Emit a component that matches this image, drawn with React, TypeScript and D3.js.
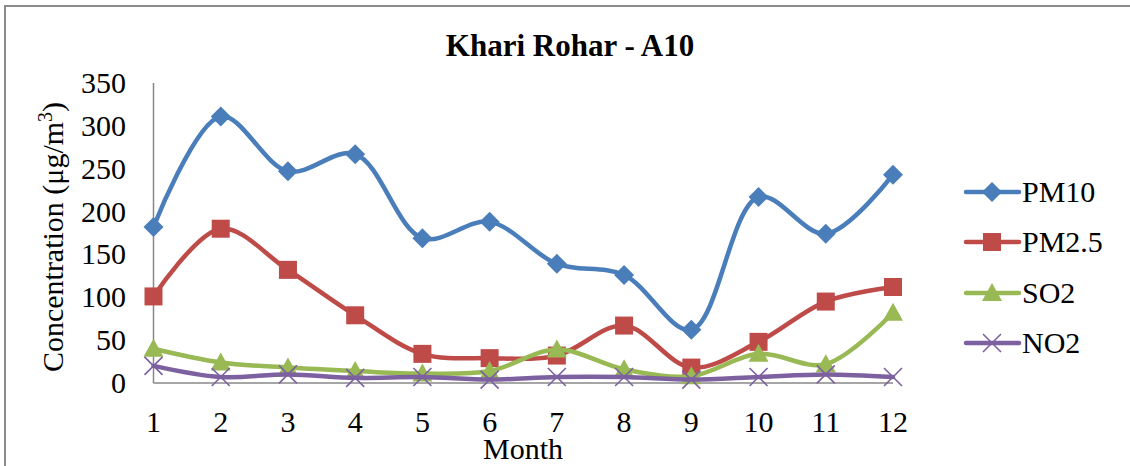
import React from "react";
import * as d3 from "d3";

const months = [1, 2, 3, 4, 5, 6, 7, 8, 9, 10, 11, 12];
const pm10 = [182, 311, 247, 267, 169, 188, 139, 126, 62, 217, 174, 243];
const pm25 = [101, 180, 132, 79, 34, 29, 32, 67, 18, 48, 95, 112];
const so2 = [40, 24, 18, 14, 11, 14, 39, 16, 8, 34, 22, 82];
const no2 = [20, 7, 10, 6, 7, 4, 7, 7, 4, 7, 10, 7];
const yTicks = [0, 50, 100, 150, 200, 250, 300, 350];
const seriesNames = ["PM10", "PM2.5", "SO2", "NO2"];
const seriesColors = ["#4A7EBB", "#BE4B48", "#98B954", "#7D60A0"];
const seriesMarkers = ["diamond", "square", "triangle", "x"];
const seriesValues = [pm10, pm25, so2, no2];

const W = 1130;
const H = 466;
const FONT = "'Liberation Serif', 'Times New Roman', serif";

function Marker({ kind, color, x, y }: { kind: string; color: string; x: number; y: number }) {
  if (kind === "diamond") {
    const r = 10;
    return <path d={`M${x},${y - r}L${x + r},${y}L${x},${y + r}L${x - r},${y}Z`} fill={color} />;
  }
  if (kind === "square") {
    const s = 9;
    return <rect x={x - s} y={y - s} width={2 * s} height={2 * s} fill={color} />;
  }
  if (kind === "triangle") {
    const r = 10;
    return <path d={`M${x},${y - r}L${x + r},${y + 8}L${x - r},${y + 8}Z`} fill={color} />;
  }
  const r = 9;
  return (
    <path
      d={`M${x - r},${y - r}L${x + r},${y + r}M${x - r},${y + r}L${x + r},${y - r}`}
      stroke={color}
      strokeWidth={1.6}
      fill="none"
    />
  );
}

export default function App() {
  const x = d3.scaleLinear().domain([1, 12]).range([153.5, 893]);
  const y = d3.scaleLinear().domain([0, 350]).range([383, 83]);
  const line = d3
    .line<number>()
    .x((_, i) => x(months[i]))
    .y((d) => y(d))
    .curve(d3.curveCatmullRom.alpha(0.5));

  const legendY = [192, 242, 293, 343];

  return (
    <svg
      width={W}
      height={H}
      style={{ position: "absolute", left: 0, top: 0, background: "#fff" }}
      fontFamily={FONT}
    >
      <rect x={0} y={0} width={W} height={H} fill="#fff" />
      <rect x={5} y={6} width={W + 20} height={H + 20} fill="none" stroke="#8a8a8a" strokeWidth={2} />

      <text x={570} y={56} textAnchor="middle" fontSize={31} fontWeight="bold" fill="#000">
        Khari Rohar - A10
      </text>

      {/* axes */}
      <line x1={x(1)} x2={x(1)} y1={y(350)} y2={y(0)} stroke="#888" strokeWidth={1.5} />
      <line x1={x(1)} x2={x(12)} y1={y(0)} y2={y(0)} stroke="#888" strokeWidth={1.5} />

      {yTicks.map((t) => (
        <text key={t} x={126} y={y(t) + 10} textAnchor="end" fontSize={30} fill="#000">
          {t}
        </text>
      ))}
      {months.map((m) => (
        <text key={m} x={x(m)} y={432} textAnchor="middle" fontSize={30} fill="#000">
          {m}
        </text>
      ))}

      <text x={523} y={459} textAnchor="middle" fontSize={30} fill="#000">
        Month
      </text>
      <text transform="translate(63,237) rotate(-90)" textAnchor="middle" fontSize={30} fill="#000">
        Concentration (μg/m
        <tspan fontSize={20} dy={-11}>
          3
        </tspan>
        <tspan dy={11}>)</tspan>
      </text>

      {seriesValues.map((vals, si) => (
        <g key={seriesNames[si]}>
          <path
            d={line(vals) || ""}
            fill="none"
            stroke={seriesColors[si]}
            strokeWidth={4.5}
            strokeLinejoin="round"
            strokeLinecap="round"
          />
          {vals.map((v, i) => (
            <Marker key={i} kind={seriesMarkers[si]} color={seriesColors[si]} x={x(months[i])} y={y(v)} />
          ))}
        </g>
      ))}

      {seriesNames.map((n, si) => (
        <g key={n}>
          <line
            x1={966}
            x2={1019}
            y1={legendY[si]}
            y2={legendY[si]}
            stroke={seriesColors[si]}
            strokeWidth={4.5}
            strokeLinecap="round"
          />
          <Marker kind={seriesMarkers[si]} color={seriesColors[si]} x={992} y={legendY[si]} />
          <text x={1022} y={legendY[si] + 10} fontSize={30} fill="#000">
            {n}
          </text>
        </g>
      ))}
    </svg>
  );
}
